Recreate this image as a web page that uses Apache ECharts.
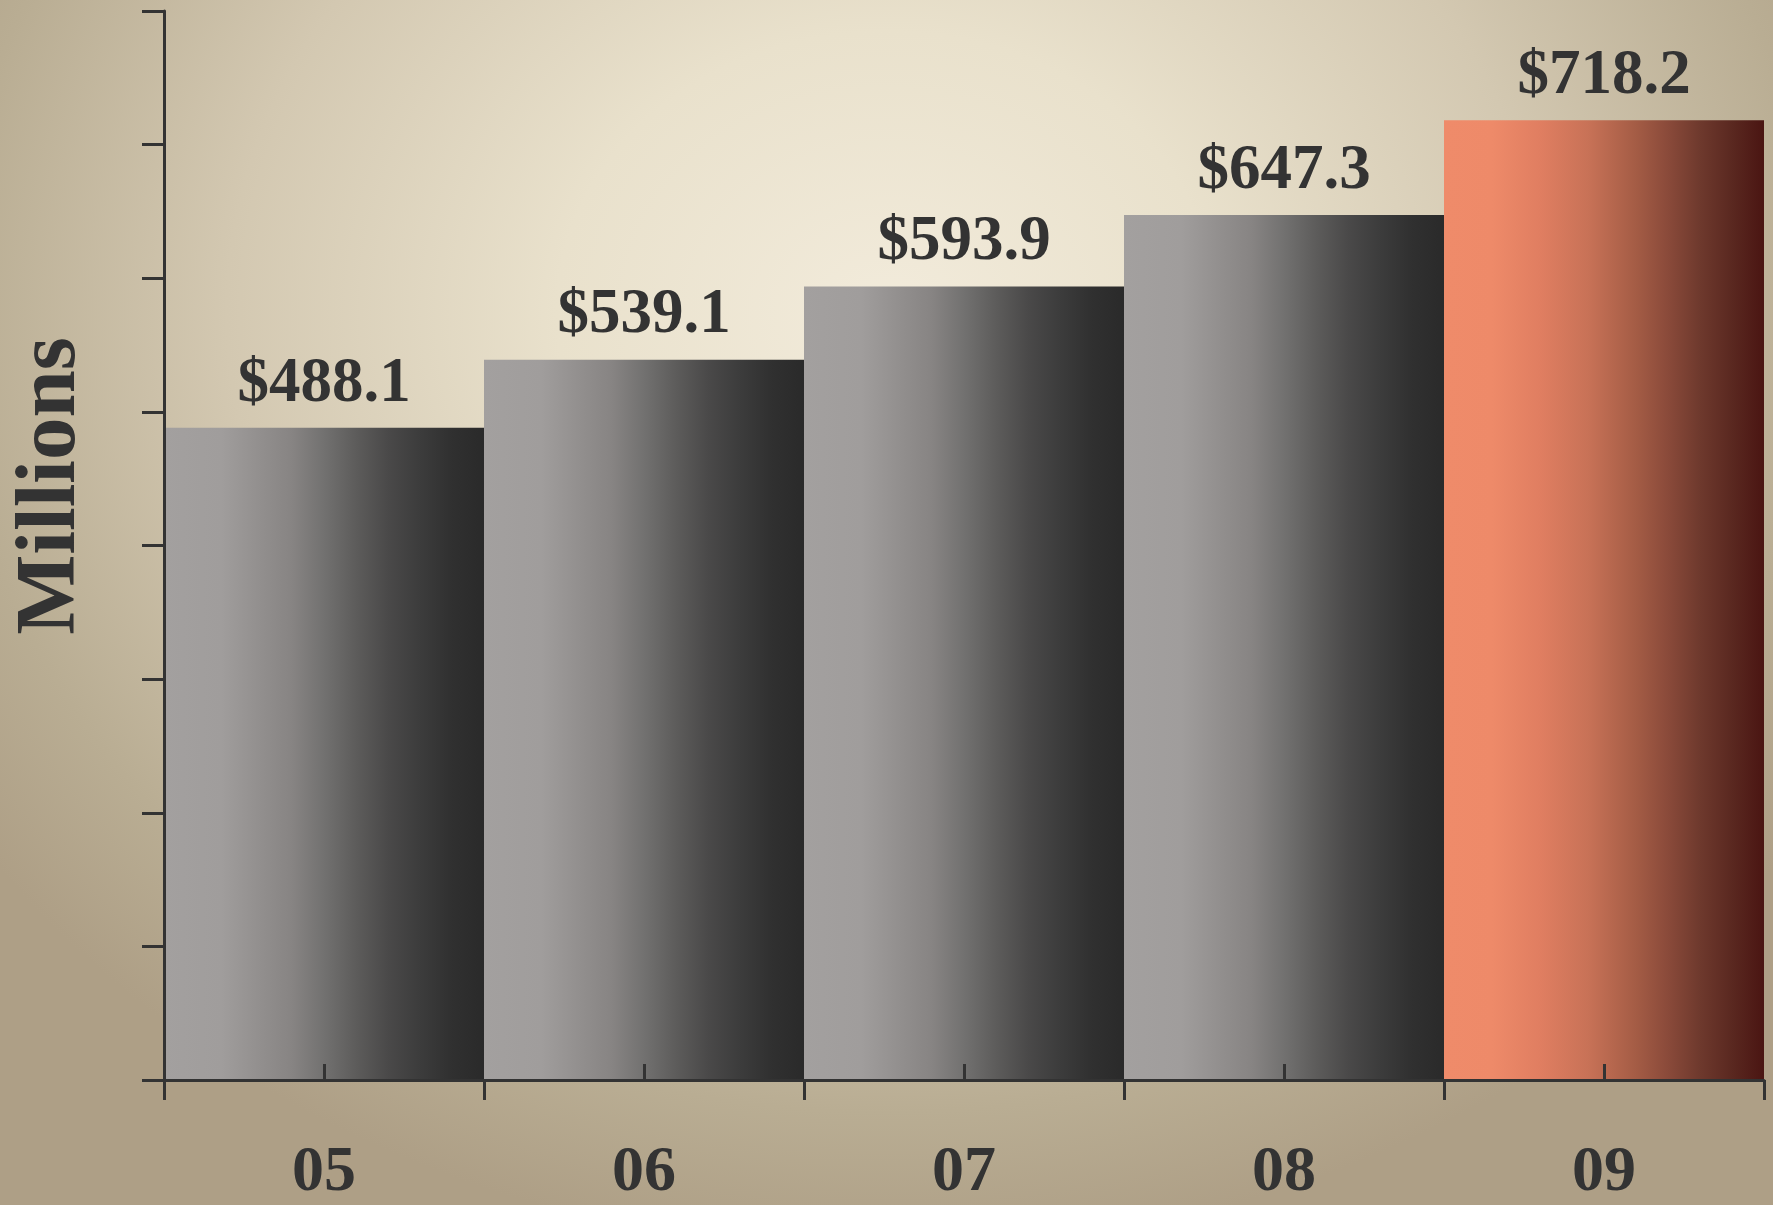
<!DOCTYPE html>
<html>
<head>
<meta charset="utf-8">
<script src="https://cdn.jsdelivr.net/npm/echarts@6/dist/echarts.min.js"></script>
<style>
  html, body { margin: 0; padding: 0; }
  #chartRevenueBar {
    width: 1773px;
    height: 1205px;
    background: radial-gradient(ellipse 62% 78% at 50% 26%, #f2ebdb 0%, #e9e1cc 30%, #d3c8b1 60%, #b9ad93 85%, #ae9f86 100%);
  }
</style>
</head>
<body>
<div id="chartRevenueBar"></div>
<script>
// 数据
const years = ["05", "06", "07", "08", "09"];
const revenue = [488.1, 539.1, 593.9, 647.3, 718.2];
const highlightYear = "09";
const yMin = 0;
const yMax = 800;
const yStep = 100;

const serif = "'Liberation Serif', 'Times New Roman', serif";
const ink = "#333333";

// 柱子横向渐变
const grayFill = {
  type: "linear", x: 0, y: 0, x2: 1, y2: 0,
  colorStops: [
    { offset: 0, color: "#a3a09f" },
    { offset: 0.18, color: "#a09d9c" },
    { offset: 0.3, color: "#928f8e" },
    { offset: 0.4, color: "#878483" },
    { offset: 0.5, color: "#727170" },
    { offset: 0.6, color: "#5d5c5b" },
    { offset: 0.7, color: "#4a4949" },
    { offset: 0.8, color: "#3c3c3c" },
    { offset: 0.9, color: "#303030" },
    { offset: 1, color: "#2a2a2a" },
  ],
};
const orangeFill = {
  type: "linear", x: 0, y: 0, x2: 1, y2: 0,
  colorStops: [
    { offset: 0, color: "#ef8b6a" },
    { offset: 0.15, color: "#ee8a69" },
    { offset: 0.3, color: "#e07e61" },
    { offset: 0.45, color: "#c87257" },
    { offset: 0.6, color: "#a45c45" },
    { offset: 0.7, color: "#8a4a3a" },
    { offset: 0.8, color: "#6e392d" },
    { offset: 0.9, color: "#5a2820" },
    { offset: 1, color: "#4a1512" },
  ],
};

const barData = revenue.map((v, i) => ({
  value: v,
  itemStyle: { color: years[i] === highlightYear ? orangeFill : grayFill },
}));

const chartOption = {
  backgroundColor: "transparent",
  animation: false,
  grid: { left: 164, right: 9, top: 11, bottom: 122 },
  graphic: [
    {
      type: "text",
      x: 52,
      y: 486,
      rotation: Math.PI / 2,
      style: {
        text: "Millions",
        font: "bold 85px " + serif,
        fill: ink,
        align: "center",
        verticalAlign: "middle",
      },
    },
  ],
  xAxis: [
    {
      type: "category",
      data: years,
      z: 10,
      axisLine: { lineStyle: { color: ink, width: 3 } },
      axisTick: { show: true, length: 20, lineStyle: { color: ink, width: 3 } },
      axisLabel: {
        margin: 61,
        color: ink,
        fontFamily: serif,
        fontWeight: "bold",
        fontSize: 64,
      },
    },
    {
      // 中间的短刻度
      type: "category",
      data: years,
      position: "bottom",
      z: 10,
      axisLine: { show: false },
      axisTick: { show: true, alignWithLabel: true, inside: true, length: 16, lineStyle: { color: ink, width: 3 } },
      axisLabel: { show: false },
    },
  ],
  yAxis: {
    type: "value",
    min: yMin,
    max: yMax,
    interval: yStep,
    z: 10,
    axisLine: { show: true, lineStyle: { color: ink, width: 3 } },
    axisTick: { show: true, length: 22, lineStyle: { color: ink, width: 3 } },
    axisLabel: { show: false },
    splitLine: { show: false },
  },
  series: [
    {
      type: "bar",
      data: barData,
      barCategoryGap: "0%",
      label: {
        show: true,
        position: "top",
        distance: 12,
        color: ink,
        fontFamily: serif,
        fontWeight: "bold",
        fontSize: 63,
        formatter: (p) => "$" + p.value.toFixed(1),
      },
    },
  ],
};

const revenueChart = echarts.init(document.getElementById("chartRevenueBar"));
revenueChart.setOption(chartOption);
</script>
</body>
</html>
